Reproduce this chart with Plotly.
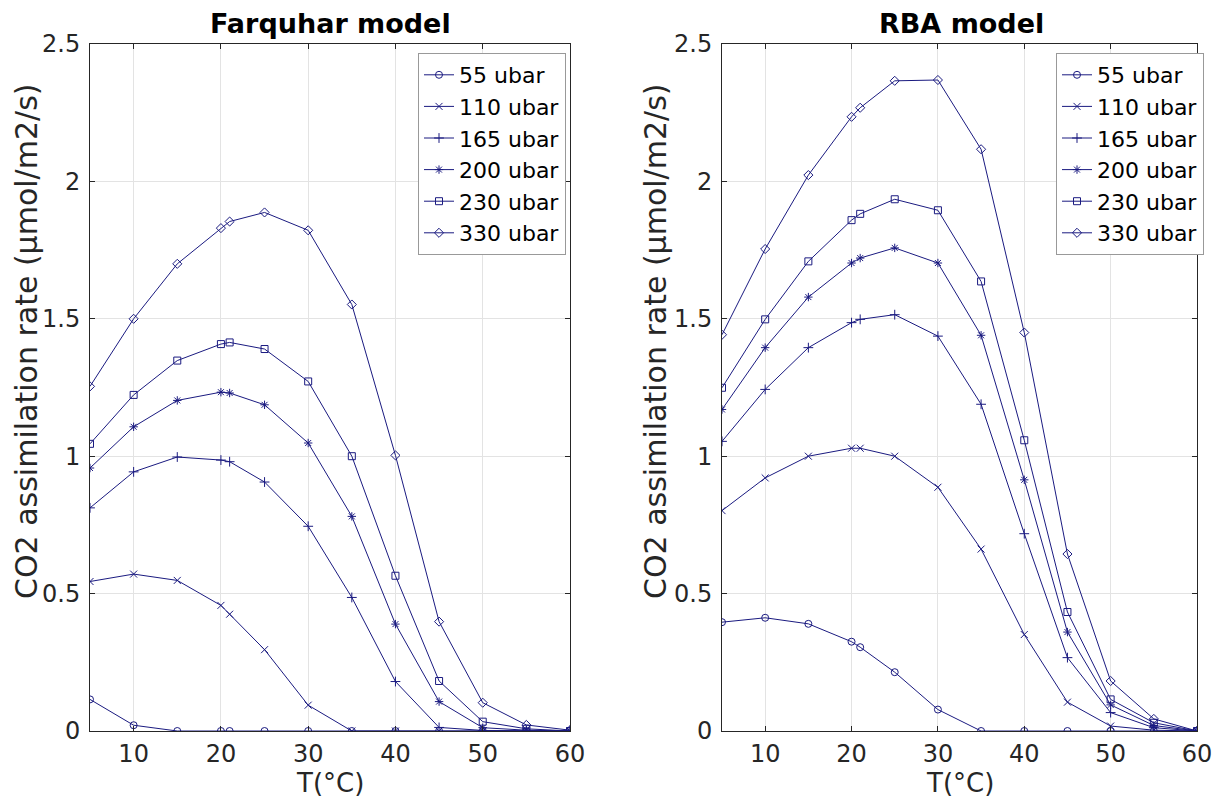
import plotly.graph_objects as go

T = [5, 10, 15, 20, 21, 25, 30, 35, 40, 45, 50, 55, 60]
labels = ["55 ubar", "110 ubar", "165 ubar", "200 ubar", "230 ubar", "330 ubar"]

farquhar_55 = [0.115, 0.021, 0.0, 0.0, 0.0, 0.0, 0.0, 0.0, 0.0, 0.0, 0.0, 0.0, 0.0]
farquhar_110 = [0.544, 0.571, 0.548, 0.457, 0.425, 0.296, 0.094, 0.0, 0.0, 0.0, 0.0, 0.0, 0.0]
farquhar_165 = [0.812, 0.943, 0.997, 0.986, 0.980, 0.906, 0.745, 0.486, 0.180, 0.013, 0.002, 0.0, 0.0]
farquhar_200 = [0.957, 1.107, 1.203, 1.233, 1.230, 1.187, 1.048, 0.781, 0.389, 0.107, 0.012, 0.003, 0.0]
farquhar_230 = [1.045, 1.223, 1.348, 1.408, 1.414, 1.390, 1.272, 1.000, 0.565, 0.182, 0.034, 0.008, 0.0]
farquhar_330 = [1.254, 1.500, 1.700, 1.830, 1.854, 1.887, 1.822, 1.552, 1.003, 0.398, 0.103, 0.022, 0.003]

rba_55 = [0.396, 0.412, 0.390, 0.325, 0.305, 0.214, 0.078, 0.0, 0.0, 0.0, 0.0, 0.0, 0.0]
rba_110 = [0.802, 0.921, 1.000, 1.029, 1.029, 1.000, 0.887, 0.662, 0.351, 0.105, 0.018, 0.003, 0.0]
rba_165 = [1.054, 1.243, 1.395, 1.486, 1.498, 1.515, 1.437, 1.189, 0.718, 0.267, 0.067, 0.012, 0.0]
rba_200 = [1.170, 1.395, 1.579, 1.703, 1.721, 1.758, 1.703, 1.440, 0.914, 0.360, 0.095, 0.020, 0.0]
rba_230 = [1.249, 1.498, 1.709, 1.859, 1.882, 1.935, 1.895, 1.636, 1.058, 0.433, 0.115, 0.030, 0.0]
rba_330 = [1.442, 1.754, 2.023, 2.235, 2.268, 2.366, 2.369, 2.117, 1.450, 0.644, 0.182, 0.044, 0.0]

farquhar = [farquhar_55, farquhar_110, farquhar_165, farquhar_200, farquhar_230, farquhar_330]
rba = [rba_55, rba_110, rba_165, rba_200, rba_230, rba_330]

x_ticks = [10, 20, 30, 40, 50, 60]
y_ticks = [0, 0.5, 1, 1.5, 2, 2.5]
y_tick_text = ["0", "0.5", "1", "1.5", "2", "2.5"]

titles = ["Farquhar model", "RBA model"]
x_title = "T(°C)"
y_title = "CO2 assimilation rate (µmol/m2/s)"

symbols = ["circle-open", "x-thin-open", "cross-thin-open", "asterisk-open", "square-open", "diamond-open"]
LINE = "#1a1a80"
FONT = "DejaVu Sans"
AX = "#262626"

fig = go.Figure()
for i, lab in enumerate(labels):
    fig.add_trace(go.Scatter(x=T, y=farquhar[i], name=lab, mode="lines+markers",
                             line=dict(color=LINE, width=1),
                             marker=dict(symbol=symbols[i], size=7, color=LINE, line=dict(width=1, color=LINE)),
                             xaxis="x", yaxis="y", legend="legend"))
for i, lab in enumerate(labels):
    fig.add_trace(go.Scatter(x=T, y=rba[i], name=lab, mode="lines+markers",
                             line=dict(color=LINE, width=1),
                             marker=dict(symbol=symbols[i], size=7, color=LINE, line=dict(width=1, color=LINE)),
                             xaxis="x2", yaxis="y2", legend="legend2"))

W, H = 1225, 800
OFF = 8  # page body margin offset

def px_x(p):
    return (p - OFF) / W

def px_y(p):
    return 1 - (p - OFF) / H

xaxis_common = dict(range=[5, 60], tickvals=x_ticks, ticks="inside", ticklen=5, tickcolor=AX,
                    showline=True, linecolor=AX, linewidth=1, mirror="allticks", automargin=False,
                    showgrid=True, gridcolor="#e3e3e3", gridwidth=1, zeroline=False,
                    ticklabelstandoff=1,
                    tickfont=dict(family=FONT, size=24, color=AX))
yaxis_common = dict(range=[0, 2.5], tickvals=y_ticks, ticktext=y_tick_text, ticks="inside", ticklen=5, tickcolor=AX,
                    showline=True, linecolor=AX, linewidth=1, mirror="allticks", automargin=False,
                    showgrid=True, gridcolor="#e3e3e3", gridwidth=1, zeroline=False,
                    ticklabelstandoff=4,
                    tickfont=dict(family=FONT, size=24, color=AX))

legend_common = dict(font=dict(family=FONT, size=22, color="black"), bgcolor="white",
                     bordercolor="#999999", borderwidth=1, xanchor="right", yanchor="top",
                     itemwidth=30, tracegroupgap=0)

annotations = []
for cx, ttl in zip([330, 961], titles):
    annotations.append(dict(text="<b>" + ttl + "</b>", x=px_x(cx), y=px_y(23), xref="paper", yref="paper",
                            showarrow=False, font=dict(family=FONT, size=27, color="black"),
                            xanchor="center", yanchor="middle"))
for cx in [330, 960]:
    annotations.append(dict(text=x_title, x=px_x(cx), y=px_y(783), xref="paper", yref="paper",
                            showarrow=False, font=dict(family=FONT, size=26, color=AX),
                            xanchor="center", yanchor="middle"))
for cx in [26, 655]:
    annotations.append(dict(text=y_title, x=px_x(cx), y=px_y(342), xref="paper", yref="paper",
                            showarrow=False, textangle=-90, font=dict(family=FONT, size=30, color=AX),
                            xanchor="center", yanchor="middle"))

fig.update_layout(
    width=W, height=H,
    margin=dict(l=0, r=0, t=0, b=0),
    paper_bgcolor="white", plot_bgcolor="white",
    xaxis=dict(domain=[px_x(90), px_x(570)], anchor="y", **xaxis_common),
    yaxis=dict(domain=[px_y(731), px_y(44)], anchor="x", **yaxis_common),
    xaxis2=dict(domain=[px_x(722), px_x(1197)], anchor="y2", **xaxis_common),
    yaxis2=dict(domain=[px_y(731), px_y(44)], anchor="x2", **yaxis_common),
    legend=dict(x=px_x(566), y=px_y(53), **legend_common),
    legend2=dict(x=px_x(1204), y=px_y(53), **legend_common),
    annotations=annotations,
    showlegend=True,
)

fig.write_html("out.html")
